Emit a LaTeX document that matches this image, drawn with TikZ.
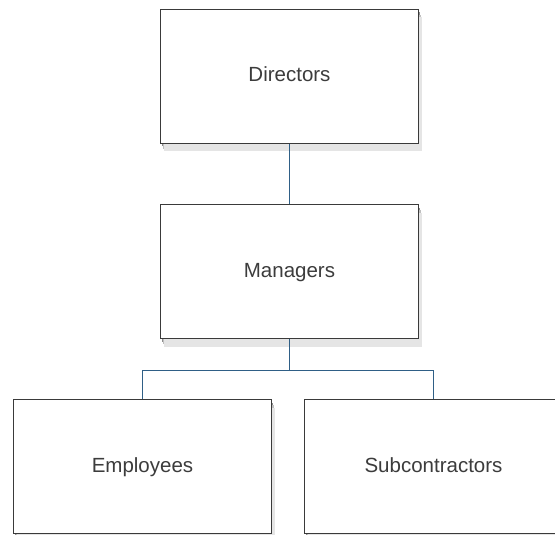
\documentclass[tikz,border=0pt]{standalone}
\usepackage{fontspec}
\setmainfont{Liberation Sans}
\usepackage{tikz}
\usetikzlibrary{calc,shadows}
\definecolor{linkblue}{HTML}{2F5F86}
\definecolor{boxedge}{HTML}{3A3A3A}
\definecolor{boxtext}{HTML}{3C3C3C}
\tikzset{
	orgbox/.style={draw=boxedge, line width=1pt, fill=white, minimum width=258pt, minimum height=134pt, text height=15pt, text depth=4pt, text=boxtext, font=\fontsize{20.5}{24}\selectfont,
		general shadow={shadow xshift=1pt, shadow yshift=-3pt, fill=black!45},
		general shadow={shadow xshift=2pt, shadow yshift=-5.5pt, fill=black!25},
		general shadow={shadow xshift=3pt, shadow yshift=-8pt, fill=black!10}},
	orglink/.style={draw=linkblue, line width=1pt}
}

\begin{document}
\begin{tikzpicture}[x=1pt, y=1pt]
			%%%%% START %%%%%
			
			\useasboundingbox (0, 0) rectangle (555, -535);
			
			\node[orgbox] (directors) at (289.5, -76.5) {Directors};
			\node[orgbox] (managers) at (289.5, -271.5) {Managers};
			\node[orgbox] (employees) at (142.5, -466.5) {Employees};
			\node[orgbox] (subcontractors) at (433.5, -466.5) {Subcontractors};
			
			\coordinate (split) at (289.5, -370.5);
			
			\draw[orglink] (directors.south) -- (managers.north);
			\draw[orglink] (managers.south) -- (split) -| (employees.north);
			\draw[orglink] (split) -| (subcontractors.north);
			
			%%%%% END %%%%%
		\end{tikzpicture}
\end{document}
